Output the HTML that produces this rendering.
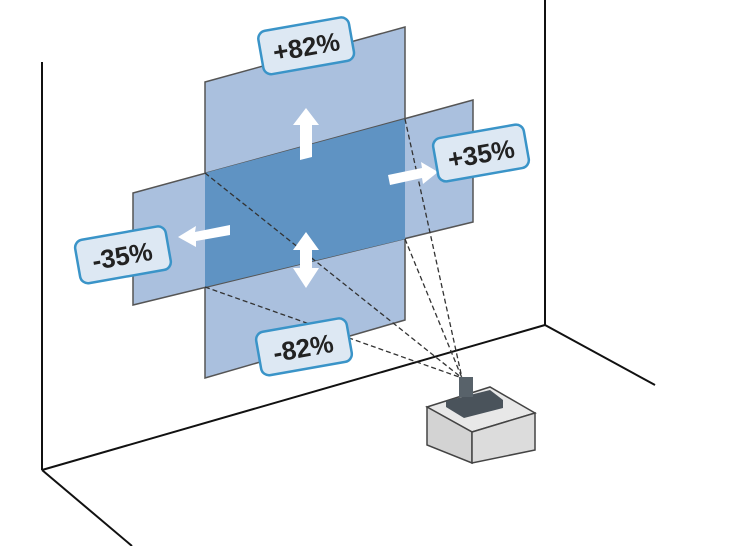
<!DOCTYPE html>
<html><head><style>body{margin:0;background:#fff}svg{display:block}</style></head><body>
<svg width="740" height="546" viewBox="0 0 740 546" xmlns="http://www.w3.org/2000/svg" font-family="Liberation Sans, sans-serif">
<g stroke="#111" stroke-width="2" fill="none">
<line x1="42" y1="62" x2="42" y2="470"/>
<line x1="42" y1="470" x2="545" y2="325"/>
<line x1="545" y1="0" x2="545" y2="325"/>
<line x1="545" y1="325" x2="655" y2="385"/>
<line x1="42" y1="470" x2="132" y2="546"/>
</g>
<polygon points="205,82 405,27 405,320 205,378" fill="#aac0de" stroke="#555" stroke-width="1.5"/>
<polygon points="133,193 473,100 473,222 133,305" fill="#aac0de" stroke="#555" stroke-width="1.5"/>
<polygon points="205,173 405,119 405,239 205,287" fill="#5f93c3"/>
<g stroke="#333" stroke-width="1.3" stroke-dasharray="5,3" fill="none">
<line x1="205" y1="173" x2="462" y2="378"/>
<line x1="205" y1="287" x2="462" y2="378"/>
<line x1="405" y1="119" x2="462" y2="378"/>
<line x1="405" y1="239" x2="462" y2="378"/>
</g>
<g fill="#fff">
<polygon points="300,160 300,125 293,125 306,108 319,125 312,125 312,157"/>
<polygon points="388,175 422,168 421,162 438,172 423,184 422,178 390,185"/>
<polygon points="230,225 195,232 196,226 178,237 196,247 196,241 230,235"/>
<polygon points="300,250 300,268 293,268 306,288 319,268 312,268 312,250 319,250 306,232 293,250"/>
</g>
<g font-size="26" font-weight="bold" fill="#222" text-anchor="middle">
<g transform="rotate(-10 305 45)"><rect x="260" y="24" width="92" height="44" rx="8" fill="#dde8f3" stroke="#3a94c8" stroke-width="2.5"/><text x="306" y="56">+82%</text></g>
<g transform="rotate(-10 481 153)"><rect x="435" y="131" width="92" height="44" rx="8" fill="#dde8f3" stroke="#3a94c8" stroke-width="2.5"/><text x="481" y="163">+35%</text></g>
<g transform="rotate(-10 122 255)"><rect x="77" y="233" width="92" height="44" rx="8" fill="#dde8f3" stroke="#3a94c8" stroke-width="2.5"/><text x="122" y="265">-35%</text></g>
<g transform="rotate(-10 303 347)"><rect x="258" y="325" width="92" height="44" rx="8" fill="#dde8f3" stroke="#3a94c8" stroke-width="2.5"/><text x="303" y="357">-82%</text></g>
</g>
<polygon points="427,407 490,387 535,413 472,432" fill="#e8e8e8" stroke="#444" stroke-width="1.5"/>
<polygon points="427,407 472,432 472,463 427,445" fill="#d3d3d3" stroke="#444" stroke-width="1.5"/>
<polygon points="472,432 535,413 535,450 472,463" fill="#dcdcdc" stroke="#444" stroke-width="1.5"/>
<polygon points="446,401 490,390 503,400 503,408 464,418 446,407" fill="#4a535b"/>
<rect x="459" y="377" width="14" height="20" fill="#58626a"/>
</svg>
</body></html>
